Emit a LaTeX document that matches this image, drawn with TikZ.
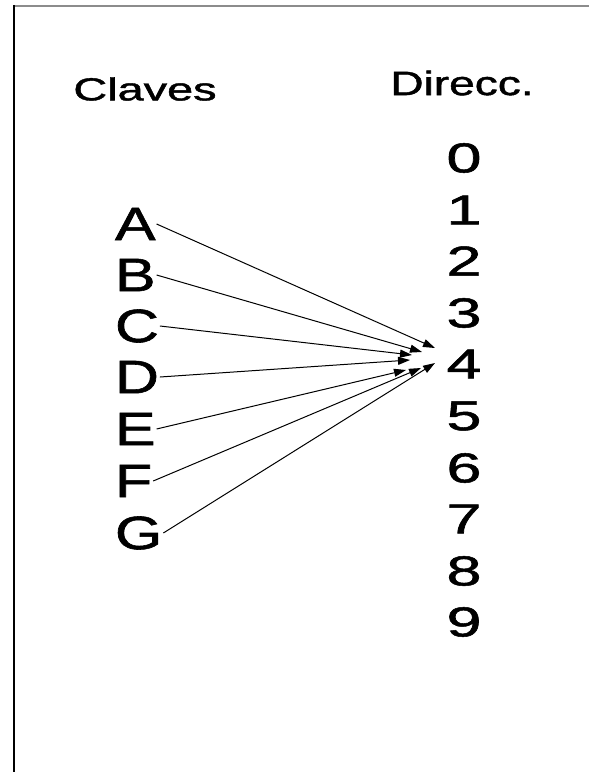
\documentclass[tikz,border=0pt]{standalone}
\usepackage{fontspec}
\setmainfont{Liberation Sans}
\newfontfamily\heavy{Liberation Sans}[FakeBold=1.2]
\usetikzlibrary{arrows.meta}
\begin{document}
\begin{tikzpicture}[x=1bp,y=-1bp,
  lbl/.style={inner sep=0pt,outer sep=1bp,font=\heavy\fontsize{47}{47}\selectfont},
  dig/.style={inner sep=0pt,outer sep=1bp,font=\heavy\fontsize{42}{42}\selectfont},
  hdc/.style={inner sep=0pt,font=\heavy\fontsize{32}{32}\selectfont},
  hdd/.style={inner sep=0pt,font=\heavy\fontsize{34}{34}\selectfont},
  conn/.style={line width=1bp,-{Triangle[length=12bp,width=8bp]}},
]
\useasboundingbox (0,0) rectangle (589,772);
% frame
\draw[line width=1.2bp,black!45] (14,6) -- (589,6);
\draw[line width=2bp] (14,5) -- (14,772);
% headers
\node[hdc] (hc) at (145,89) {\scalebox{1.47}[1]{Claves}};
\node[hdd] (hd) at (462,83) {\scalebox{1.36}[1]{Direcc.}};
% keys
\foreach \k/\y in {A/224,B/275,C/326,D/377,E/429,F/481,G/533}
  \node[lbl,anchor=west] (k\k) at (114,\y) {\scalebox{1.3}[1]{\k}};
% addresses
\foreach \d/\y in {0/158,1/210,2/261,3/313,4/364,5/416,6/468,7/519,8/571,9/622}
  \node[dig] (d\d) at (464,\y) {\scalebox{1.5}[1]{\d}};
% arrow ends
\coordinate (tA) at (435,348);
\coordinate (tB) at (422,352);
\coordinate (tC) at (412,355);
\coordinate (tD) at (410,360);
\coordinate (tE) at (406,370);
\coordinate (tF) at (421,368);
\coordinate (tG) at (435,363);
\foreach \k in {A,B,C,D,E,F,G}
  \draw[conn] (k\k.east) -- (t\k);
\end{tikzpicture}
\end{document}
